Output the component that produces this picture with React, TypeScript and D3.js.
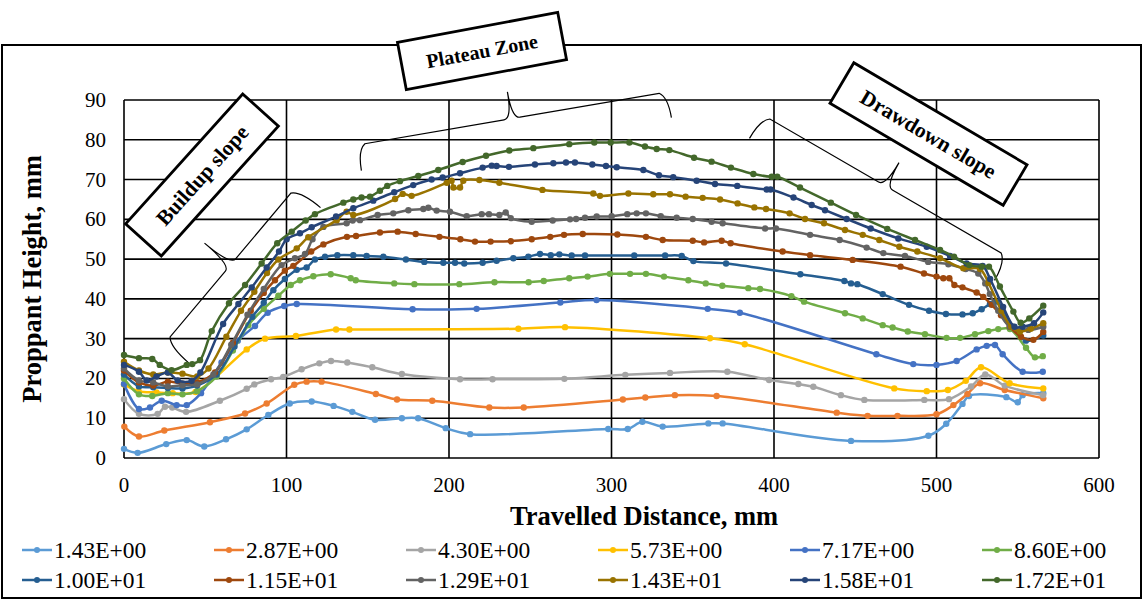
import React from 'react';
import * as d3 from 'd3';

const seriesNames = ['1.43E+00','2.87E+00','4.30E+00','5.73E+00','7.17E+00','8.60E+00','1.00E+01','1.15E+01','1.29E+01','1.43E+01','1.58E+01','1.72E+01'];
const seriesColors = ['#5B9BD5','#ED7D31','#A5A5A5','#FFC000','#4472C4','#70AD47','#255E91','#9E480E','#636363','#997300','#264478','#43682B'];

const s1 = [[0,2.3],[8.4,1.3],[26,3.5],[38.6,4.5],[49.4,2.9],[62.8,4.7],[75.5,7.2],[88.8,10.8],[102,13.7],[115.5,14.2],[129,13.1],[140.5,11.6],[154.5,9.6],[171,10],[181,10],[198,7.5],[213,6],[298,7.3],[310,7.3],[319,9.1],[331.5,7.9],[359.6,8.7],[368.4,8.7],[447.4,4.3],[495,5.6],[506,8.6],[516,13.6],[520,15.6],[543,15.3],[550,14],[553,15.8],[565.7,16.3]];
const s2 = [[0.2,7.9],[9.2,5.4],[24.8,6.9],[52.9,9],[74.5,11.2],[87.8,13.7],[104.8,18.4],[112.4,19.2],[121.6,19.2],[155,16.1],[168,14.7],[189.7,14.4],[224.8,12.7],[246,12.7],[307,14.7],[320.8,15.2],[339,15.8],[364.7,15.6],[438.6,11.4],[457.6,10.6],[476,10.6],[500,11],[510.4,13.3],[519,16.1],[526.8,18.8],[542,17.1],[565.7,15]];
const s3 = [[0,14.8],[9.2,11.1],[20.7,11.1],[25.2,12.9],[29.7,12.7],[38.2,11.6],[59,14.4],[75.5,17.4],[80.2,18.5],[90.5,19.8],[98,20.4],[109.3,22.3],[120.2,23.8],[127.4,24.4],[137.4,24],[152.8,22.8],[171,21.1],[206.8,19.8],[226.8,19.8],[271,19.9],[308.5,20.9],[336,21.4],[371.3,21.7],[397,19.6],[415,18.6],[424.2,17.9],[441.2,15.8],[455.6,14.6],[492.5,14.6],[507.7,14.8],[521.3,18],[530,21],[542,18.2],[565.6,15.8]];
const s4 = [[0,18.5],[9,16.8],[20,16.5],[30,16.3],[44,16.6],[75.5,27.3],[86.8,30],[105.8,30.7],[130.5,32.3],[138.7,32.3],[242.7,32.5],[271.4,32.9],[360.6,30.1],[382,28.6],[474,17.5],[494,16.8],[507,17.1],[518,19.4],[527.4,22.8],[545,18.8],[565.7,17.5]];
const s5 = [[0,18.6],[9.2,12.3],[16,12.7],[23.2,14.4],[32.4,13.3],[38.6,13.3],[47.4,16.3],[60,24],[70,29.5],[80.6,33.2],[88.4,36.5],[98.6,38.2],[106.3,38.7],[177.6,37.4],[217,37.5],[268.5,39.1],[290.8,39.7],[359.2,37.5],[379,36.5],[463,26.1],[485.7,23.6],[500,23.4],[512.4,24.4],[524.7,27.3],[530.9,28.2],[536,28.4],[540.7,26.1],[553,21.7],[565.4,21.7]];
const s6 = [[0,20],[9.2,16],[17.4,15.6],[27,16.3],[36,16],[45,16.8],[57,20.5],[67,27],[76.5,33.4],[86,37.5],[95,40.8],[102.6,43.5],[108.3,44.7],[116.5,45.7],[127.2,46.2],[139.5,45.2],[142.6,44.7],[166.3,43.9],[178.7,43.7],[206.4,43.7],[228,44.2],[249,44.2],[258.3,44.5],[274,45.2],[285.3,45.6],[299,46.3],[311.4,46.3],[321.2,46.3],[332.3,45.6],[347.3,44.7],[358,43.9],[368.2,43.3],[384.2,42.7],[391.4,42.5],[410.7,40.7],[418.5,39.3],[443.7,36.4],[454.6,35.1],[466.9,33.4],[473,32.8],[482.3,31.8],[492.9,31.1],[506.2,30.2],[514.5,30.2],[523.7,31.1],[531.9,31.9],[538,32.4],[545.2,32.4],[555.1,27.7],[560.6,25.3],[565.4,25.6]];
const s7 = [[0,21],[9.2,18],[18,17.8],[27,17.6],[36,17.5],[45,18.2],[57,21],[68,28],[79,35.5],[86,39],[91.9,42.2],[99,45],[106.3,47.3],[112.4,47.9],[117.5,49.9],[123.7,50.6],[131.3,51],[141.1,51],[149.3,50.8],[159.6,50.6],[173.5,49.9],[184.8,49.3],[196.5,49.1],[203.7,49.1],[209.4,48.9],[220.7,49.1],[229.3,49.6],[239.6,50.2],[248.8,50.6],[256,51.3],[262.6,51],[267.9,51.2],[275.5,50.9],[283.7,50.9],[314,50.9],[333,50.9],[343.2,50.8],[350.4,49.5],[370.5,48.9],[416.2,46.2],[443.3,44.5],[447.4,43.9],[451.3,43.7],[466.9,41.2],[483.1,38.5],[495.4,37],[505.8,36.2],[516,36.1],[522.3,36.4],[527.8,37.4],[532.9,38.7],[537,39.3],[547,33],[555,29.5],[565.7,30.8]];
const s8 = [[0,22],[9.2,19],[18,18.2],[27,19.2],[36,18.7],[45,19],[56,21.5],[67,29],[78,37],[86,41.5],[92.9,44.7],[99,47.1],[104.2,48.3],[115.2,51.9],[122.7,53.7],[137.2,55.6],[142.8,55.8],[157.5,56.7],[168.4,56.9],[179.5,56.3],[194.1,55.6],[207,55],[216,54.4],[225.6,54.4],[238,54.5],[250.9,55],[262.3,55.6],[270.8,56.1],[282.3,56.3],[303.6,56.2],[321.2,55.6],[331.5,54.8],[350,54.6],[357,54.2],[367.8,54.6],[373.3,54],[405.3,51.9],[422.2,51],[448.4,49.8],[477.9,48.1],[492.3,46.4],[500,45.6],[504.2,45.2],[507.9,45.2],[511,43.5],[516,42.9],[524.7,41.6],[528.8,40.5],[534,38.5],[539.7,35.9],[545,33],[552,30.5],[559.6,29.7],[565.7,31.7]];
const s9 = [[0,22.5],[9.2,19.5],[18,19],[27,18],[36,18.3],[45,18.5],[55,21],[66,28.5],[76,36],[86,42.5],[97,48.5],[105.2,50.2],[111.4,51.3],[116,55],[122.7,58.1],[137,59],[140.7,59.7],[145.2,59.8],[156.1,61.1],[165.7,61.5],[175,62.3],[184.2,62.6],[187.3,62.9],[192.4,62.2],[200.6,61.9],[210.9,60.8],[220.1,61.3],[224.6,61.3],[231,61.1],[234.9,61.7],[238,60.3],[250.9,59.4],[263.8,59.7],[274.5,60],[278.2,60.1],[283.7,60.4],[290.9,60.7],[300.1,60.8],[309.7,61.3],[315.5,61.5],[321.2,61.5],[330.3,60.8],[340.1,60.4],[350,60.1],[361.6,59.4],[368.4,59],[394.5,57.7],[401.2,57.7],[422.2,56.1],[440.4,54.8],[457,52.9],[467.3,51.5],[480.6,50.8],[494.9,49.3],[507.3,48.7],[518,47.5],[525.7,46.4],[530,43.9],[532.8,41.2],[538,37],[545.2,33],[556.5,32.2],[565.7,33]];
const s10 = [[0,24.2],[9.2,22],[18,21],[27,21.5],[36,21.2],[45,20.5],[52,22.5],[63,30.5],[72,37],[80.2,41.8],[88,46.5],[95,49.9],[106.3,52.7],[113.4,55.5],[130.9,59.8],[137,61.9],[141.1,61.1],[166.8,65.1],[171.5,66.4],[177,65.9],[198.6,69.2],[201.6,69.7],[202.7,68],[206.8,68],[208.8,69.7],[218.7,69.9],[231,69.2],[257.5,67.4],[288.8,66.5],[292.9,65.9],[310.4,66.5],[325.7,66.3],[336,66.3],[345.6,65.7],[356.1,65.4],[366.8,65],[377.6,64],[387.9,63],[395.1,62.6],[409.6,61.5],[419.1,60.1],[430.8,59],[443.7,57.3],[454.6,56.1],[464.8,54.8],[477.1,53.1],[488.2,51.9],[502.2,50.2],[516.5,47.7],[526.8,47.5],[532,44],[540,37],[546,33],[551.4,31.8],[558,32.5],[565.7,33.9]];
const s11 = [[0,23.4],[9.2,21.7],[14,19.5],[20,20.5],[27,21.5],[33,19.5],[41.6,19.4],[47,21.5],[61,33.7],[70.4,38.7],[78.6,42.9],[87.8,47.9],[95.4,51.9],[100.1,55],[108.3,56.5],[115.5,58],[130.5,60.7],[141.1,62.8],[153.4,64.7],[166.3,66.8],[178,68.6],[189.3,70],[196.1,70.5],[206.8,71.6],[220.7,73],[226.3,73.5],[229.3,73.4],[236.9,73.2],[252.9,73.8],[264.2,74.1],[272,74.3],[277.5,74.3],[288.2,73.8],[296.6,73.4],[303.2,73.1],[319.6,72.4],[329.2,71.1],[338,70.6],[352.4,69.7],[363.7,68.9],[377.4,68.4],[395.5,67.5],[397.9,67.5],[412,65.5],[423.2,63.6],[431.4,62.3],[444.7,60.1],[459.5,57.7],[476.5,55.2],[494,53.1],[508.3,50.8],[518.5,48.9],[528.4,48.3],[533,45],[541,38],[548,33],[553,33],[560,33.9],[565.7,36.6]];
const s12 = [[0,25.9],[9.2,25.1],[17.4,24.9],[22,23.4],[29.3,22.1],[38.6,23.4],[42,23.6],[46.8,24.6],[54,31.9],[64.6,38.9],[74.5,43.5],[84.7,48.9],[94.3,54],[103.2,56.9],[111.8,59.7],[117.5,61.3],[135,64.2],[141.1,65],[146.2,65.5],[151.4,65.7],[157.5,67.2],[162,68.4],[169.8,69.6],[181.1,70.9],[193.4,72.4],[208.4,74.4],[222.8,76],[237.1,77.3],[251.9,77.9],[274,78.9],[289.4,79.3],[299.5,79.3],[311,79.3],[320.6,78.3],[327.8,77.7],[335.6,77.4],[350.8,75.5],[361.6,74.5],[373.5,73],[387.3,71.4],[398.6,70.7],[402,70.7],[416,68],[435,64.2],[450.5,61.1],[469.7,57.6],[486.8,54.8],[502.2,52.3],[510.8,50.6],[520.2,48.5],[527.8,48.1],[532.3,48.1],[539,43.1],[547.3,36.8],[551.8,34],[557.1,35.1],[565.7,38.3]];
const seriesData = [s1, s2, s3, s4, s5, s6, s7, s8, s9, s10, s11, s12];

const xTicks = [0, 100, 200, 300, 400, 500, 600];
const yTicks = [0, 10, 20, 30, 40, 50, 60, 70, 80, 90];

const FONT = '"Liberation Serif", "Times New Roman", serif';

function bracePath(p0: number[], p1: number[], n: number[], hook: number, tip: number) {
  const dx = p1[0] - p0[0], dy = p1[1] - p0[1];
  const L = Math.hypot(dx, dy);
  const u = [dx / L, dy / L];
  const m = [(p0[0] + p1[0]) / 2, (p0[1] + p1[1]) / 2];
  const r = 8;
  const pt = (p: number[], a: number, b: number) => [p[0] + u[0] * a + n[0] * b, p[1] + u[1] * a + n[1] * b];
  const f = (p: number[]) => `${p[0].toFixed(1)},${p[1].toFixed(1)}`;
  const h0 = pt(p0, 0, -hook);
  const a0 = pt(p0, r, 0);
  const m0 = pt(m, -r, 0);
  const mc = pt(m, 0, 0);
  const tp = pt(m, 0, tip);
  const m1 = pt(m, r, 0);
  const a1 = pt(p1, -r, 0);
  const h1 = pt(p1, 0, -hook);
  return `M${f(h0)} Q${f(pt(p0, 0, -hook * 0.2))} ${f(a0)} L${f(m0)} Q${f(mc)} ${f(tp)} M${f(tp)} Q${f(mc)} ${f(m1)} L${f(a1)} Q${f(pt(p1, 0, -hook * 0.2))} ${f(h1)}`;
}

function LabelBox({ cx, cy, w, h, angle, text, size }: any) {
  return (
    <g transform={`translate(${cx},${cy}) rotate(${angle})`}>
      <rect x={-w / 2} y={-h / 2} width={w} height={h} fill="#fff" stroke="#000" strokeWidth={2.8} />
      <text x={0} y={size * 0.35} textAnchor="middle" fontFamily={FONT} fontWeight="bold" fontSize={size} fill="#000">{text}</text>
    </g>
  );
}

export default function App() {
  const W = 1144, H = 603;
  const x = d3.scaleLinear().domain([0, 600]).range([124, 1099]);
  const y = d3.scaleLinear().domain([0, 90]).range([458, 100]);
  const line = d3.line<number[]>().x(d => x(d[0])).y(d => y(d[1])).curve(d3.curveCatmullRom.alpha(0.5));

  const legendCols = 6;
  return (
    <svg width={W} height={H} style={{ position: 'absolute', left: 0, top: 0, background: '#fff' }}>
      <rect x={0} y={0} width={W} height={H} fill="#fff" />
      <rect x={2} y={45} width={1139} height={553} fill="#fff" stroke="#000" strokeWidth={2} />
      {yTicks.map(t => (
        <line key={'gy' + t} x1={x(0)} x2={x(600)} y1={y(t)} y2={y(t)} stroke="#000" strokeWidth={1.6} />
      ))}
      {xTicks.map(t => (
        <line key={'gx' + t} x1={x(t)} x2={x(t)} y1={y(0)} y2={y(90)} stroke="#000" strokeWidth={1.6} />
      ))}
      {yTicks.map(t => (
        <text key={'ty' + t} x={x(0) - 18} y={y(t) + 7} textAnchor="end" fontFamily={FONT} fontSize={21}>{t}</text>
      ))}
      {xTicks.map(t => (
        <text key={'tx' + t} x={x(t)} y={y(0) + 34} textAnchor="middle" fontFamily={FONT} fontSize={21}>{t}</text>
      ))}
      <text transform={`translate(41,${(y(0) + y(90)) / 2}) rotate(-90)`} textAnchor="middle" fontFamily={FONT} fontWeight="bold" fontSize={26.5}>Proppant Height, mm</text>
      <text x={644} y={525} textAnchor="middle" fontFamily={FONT} fontWeight="bold" fontSize={26.5}>Travelled Distance, mm</text>

      <g fill="none" stroke="#000" strokeWidth={1.2}>
        <path d={bracePath([165, 343], [296, 187], [-0.766, -0.643], 32, 34)} />
        <path d={bracePath([357, 145], [667, 92], [-0.169, -0.986], 26, 27)} />
        <path d={bracePath([763, 115], [1008, 257], [0.501, -0.865], 27, 27)} />
      </g>

      {seriesData.map((s, i) => (
        <g key={'s' + i}>
          <path d={line(s as any) || ''} fill="none" stroke={seriesColors[i]} strokeWidth={2.5} />
          {s.map((d, j) => (
            <circle key={j} cx={x(d[0])} cy={y(d[1])} r={3.2} fill={seriesColors[i]} />
          ))}
        </g>
      ))}

      {seriesNames.map((name, i) => {
        const col = i % legendCols, row = Math.floor(i / legendCols);
        const lx = 22 + col * 192, ly = 550 + row * 30;
        return (
          <g key={'l' + i}>
            <line x1={lx} x2={lx + 30} y1={ly} y2={ly} stroke={seriesColors[i]} strokeWidth={2.5} />
            <circle cx={lx + 15} cy={ly} r={3} fill={seriesColors[i]} />
            <text x={lx + 32} y={ly + 8} fontFamily={FONT} fontSize={23.5}>{name}</text>
          </g>
        );
      })}

      <LabelBox cx={482} cy={51} w={163} h={48} angle={-10.6} text="Plateau Zone" size={20} />
      <LabelBox cx={202} cy={175} w={175} h={48} angle={-48} text="Buildup slope" size={21.5} />
      <LabelBox cx={928.5} cy={134} w={201} h={47} angle={30.5} text="Drawdown slope" size={21.5} />
    </svg>
  );
}
